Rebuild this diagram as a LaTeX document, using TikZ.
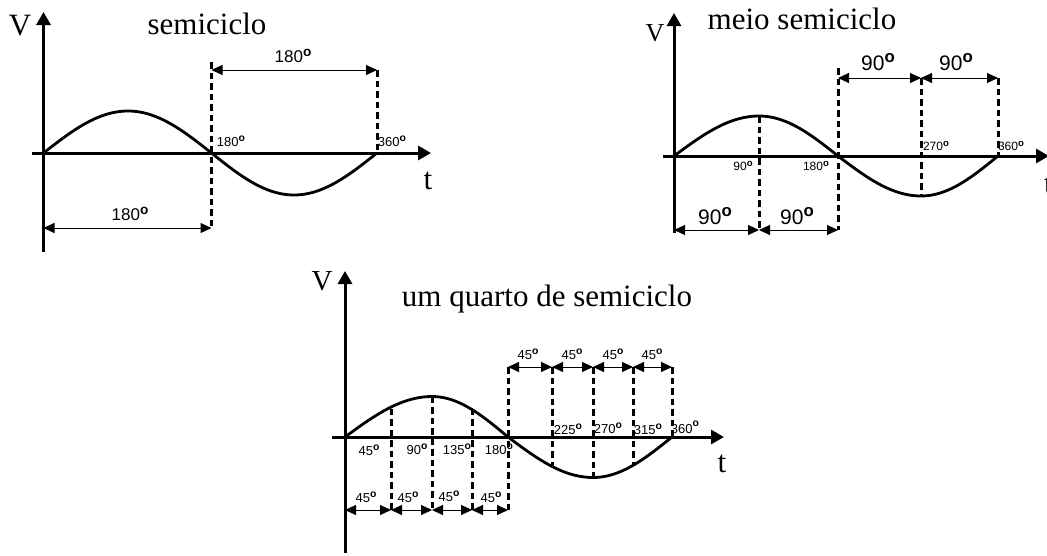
\documentclass[tikz,border=0pt]{standalone}
\usepackage{fontspec}
\setmainfont{Liberation Serif}
\setsansfont{Liberation Sans}
\usetikzlibrary{arrows.meta}
\newcommand{\dg}{\raisebox{0.75ex}{\scalebox{0.8}{\bfseries o}}}
\newcommand{\mywave}[7]{%
  \draw[wave] plot[domain=0:90,samples=30] ({#1+(#2-#1)*\x/90},{#6-#7*sin(\x)})
    -- plot[domain=90:180,samples=30] ({#2+(#3-#2)*(\x-90)/90},{#6-#7*sin(\x)})
    -- plot[domain=180:270,samples=30] ({#3+(#4-#3)*(\x-180)/90},{#6-#7*sin(\x)})
    -- plot[domain=270:360,samples=30] ({#4+(#5-#4)*(\x-270)/90},{#6-#7*sin(\x)});}
\begin{document}
\begin{tikzpicture}[x={(1pt,0)},y={(0,-1pt)},
  axis/.style={line width=3pt,-{Triangle[length=13pt,width=14pt]}},
  dim/.style={line width=1pt,{Triangle[length=11pt,width=10pt]}-{Triangle[length=11pt,width=10pt]}},
  dsh/.style={line width=3pt,dash pattern=on 6.5pt off 4pt},
  wave/.style={line width=2.8pt,line join=round},
  ttl/.style={inner sep=0pt,font=\fontsize{31}{36}\selectfont},
  big/.style={inner sep=0pt,font=\fontsize{17}{20}\selectfont\sffamily},
  bigb/.style={inner sep=0pt,font=\fontsize{21}{24}\selectfont\sffamily},
  num/.style={inner sep=0pt,font=\fontsize{13}{15}\selectfont\sffamily},
  sm/.style={inner sep=0pt,font=\fontsize{12}{14}\selectfont\sffamily}]
\useasboundingbox (0,0) rectangle (1047,555);

% ================= Graph 1 =================
\coordinate (a1l) at (32,153);  \coordinate (a1r) at (431,153);
\coordinate (v1b) at (43.5,252); \coordinate (v1t) at (43.5,12);
\draw[axis] (a1l) -- (a1r);
\draw[axis] (v1b) -- (v1t);
\mywave{43.5}{128}{211.5}{294}{377}{153}{42}
\coordinate (g1d1t) at (211.5,62);  \coordinate (g1d1b) at (211.5,228);
\coordinate (g1d2t) at (377,70);    \coordinate (g1d2b) at (377,153);
\coordinate (g1p1) at (211.5,70);   \coordinate (g1p0) at (43.5,228);
\draw[dsh] (g1d1t) -- (g1d1b);
\draw[dsh] (g1d2t) -- (g1d2b);
\draw[dim] (g1p1) -- (g1d2t);
\draw[dim] (g1p0) -- (g1d1b);
\node[big] (g1l1) at (293,56) {180\dg};
\node[big] (g1l2) at (130,214) {180\dg};
\node[num] (g1s1) at (231,141) {180\dg};
\node[num] (g1s2) at (392,141) {360\dg};
\node[ttl] (g1V) at (20,26) {V};
\node[ttl] (g1T) at (207,24) {semiciclo};
\node[ttl] (g1t) at (428,181) {t};

% ================= Graph 2 =================
\coordinate (a2l) at (663,156);  \coordinate (a2r) at (1049,156);
\coordinate (v2b) at (674,233); \coordinate (v2t) at (674,13);
\draw[axis] (a2l) -- (a2r);
\draw[axis] (v2b) -- (v2t);
\mywave{674}{759}{838}{921}{998}{156}{40}
\coordinate (g2a) at (759,116);  \coordinate (g2ab) at (759,230);
\coordinate (g2b) at (838,68);   \coordinate (g2bb) at (838,230);
\coordinate (g2c) at (921,78);   \coordinate (g2cb) at (921,195);
\coordinate (g2d) at (998,78);   \coordinate (g2db) at (998,156);
\coordinate (g2bt) at (838,78);  \coordinate (g2o) at (674,230);
\draw[dsh] (g2a) -- (g2ab);
\draw[dsh] (g2b) -- (g2bb);
\draw[dsh] (g2c) -- (g2cb);
\draw[dsh] (g2d) -- (g2db);
\draw[dim] (g2bt) -- (g2c);
\draw[dim] (g2c) -- (g2d);
\draw[dim] (g2o) -- (g2ab);
\draw[dim] (g2ab) -- (g2bb);
\node[bigb] (g2l1) at (878,62) {90\dg};
\node[bigb] (g2l2) at (956,62) {90\dg};
\node[bigb] (g2l3) at (715,216) {90\dg};
\node[bigb] (g2l4) at (797,216) {90\dg};
\node[sm] (g2s1) at (743,166) {90\dg};
\node[sm] (g2s2) at (816,166) {180\dg};
\node[sm] (g2s3) at (936,146) {270\dg};
\node[sm] (g2s4) at (1011,146) {360\dg};
\node[ttl,font=\fontsize{26}{30}\selectfont] (g2V) at (655,33) {V};
\node[ttl] (g2T) at (802,19) {meio semiciclo};
\node[ttl,anchor=west] (g2t) at (1044,185) {t};

% ================= Graph 3 =================
\coordinate (a3l) at (332,437);  \coordinate (a3r) at (724,437);
\coordinate (v3b) at (345,553); \coordinate (v3t) at (345,271);
\draw[axis] (a3l) -- (a3r);
\draw[axis] (v3b) -- (v3t);
\mywave{345}{432}{508}{593}{672}{437}{40.5}
\coordinate (h1) at (391,408.5);  \coordinate (h1b) at (391,510);
\coordinate (h2) at (432,396.5);  \coordinate (h2b) at (432,510);
\coordinate (h3) at (472,408.5);  \coordinate (h3b) at (472,510);
\coordinate (h4) at (508,367);    \coordinate (h4b) at (508,510);
\coordinate (h5) at (552,367);    \coordinate (h5b) at (552,465.5);
\coordinate (h6) at (593,367);    \coordinate (h6b) at (593,477.5);
\coordinate (h7) at (633,367);    \coordinate (h7b) at (633,465.5);
\coordinate (h8) at (672,367);    \coordinate (h8b) at (672,437);
\coordinate (h0b) at (345,510);
\foreach \n in {1,...,8}{\draw[dsh] (h\n) -- (h\n b);}
\draw[dim] (h4) -- (h5);
\draw[dim] (h5) -- (h6);
\draw[dim] (h6) -- (h7);
\draw[dim] (h7) -- (h8);
\draw[dim] (h0b) -- (h1b);
\draw[dim] (h1b) -- (h2b);
\draw[dim] (h2b) -- (h3b);
\draw[dim] (h3b) -- (h4b);
\node[num] (q1) at (528,354) {45\dg};
\node[num] (q2) at (572,354) {45\dg};
\node[num] (q3) at (613,354) {45\dg};
\node[num] (q4) at (652,354) {45\dg};
\node[num] (r1) at (366,497) {45\dg};
\node[num] (r2) at (408,497) {45\dg};
\node[num] (r3) at (449,496) {45\dg};
\node[num] (r4) at (491,497) {45\dg};
\node[num] (s1) at (369,450) {45\dg};
\node[num] (s2) at (417,449) {90\dg};
\node[num] (s3) at (457,449) {135\dg};
\node[num] (s4) at (499,449) {180\dg};
\node[num] (s5) at (568,429) {225\dg};
\node[num] (s6) at (608,428) {270\dg};
\node[num] (s7) at (648,429) {315\dg};
\node[num] (s8) at (685,427) {360\raisebox{2pt}{\dg}};
\node[ttl,font=\fontsize{29}{33}\selectfont] (g3V) at (322,281) {V};
\node[ttl] (g3T) at (547,299) {um quarto de semiciclo};
\node[ttl] (g3t) at (722,464) {t};
\end{tikzpicture}
\end{document}
